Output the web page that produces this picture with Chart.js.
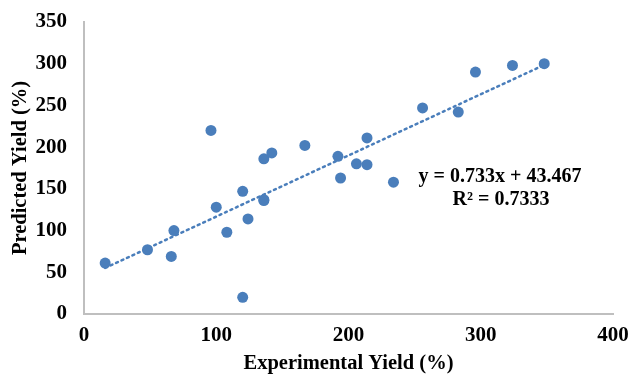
<!DOCTYPE html>
<html>
<head>
<meta charset="utf-8">
<script src="https://cdn.jsdelivr.net/npm/chart.js@4"></script>
<style>
  html, body { margin: 0; padding: 0; background: #fff; }
  #wrap { width: 630px; height: 376px; position: relative; }
  .eq { position: absolute; font: bold 20px "Liberation Serif", "Times New Roman", serif; color: #000; white-space: nowrap; transform: translate(-50%, -50%); }
</style>
</head>
<body>
<div id="wrap">
  <canvas id="myChart" width="630" height="376"></canvas>
  <div class="eq" style="left:500px; top:175px;">y = 0.733x + 43.467</div>
  <div class="eq" style="left:501px; top:198px;">R² = 0.7333</div>
</div>
<script>
const experimental = [16, 48, 66, 68, 100, 108, 120, 124, 136, 136, 120, 96, 136, 142, 167, 192, 194, 206, 214, 214, 234, 256, 283, 296, 324, 348]
const predicted = [61, 77, 69, 100, 128, 98, 147, 114, 136, 137, 20, 220, 186, 193, 202, 189, 163, 180, 179, 211, 158, 247, 242, 290, 298, 300]
const xTicks = [0, 100, 200, 300, 400]
const yTicks = [0, 50, 100, 150, 200, 250, 300, 350]
const slope = 0.733
const intercept = 43.467

const points = experimental.map((x, i) => ({ x: x, y: predicted[i] }))
const xMin = Math.min(...experimental)
const xMax = Math.max(...experimental)
const trend = [
  { x: xMin, y: slope * xMin + intercept },
  { x: xMax, y: slope * xMax + intercept }
]

const serif = '"Liberation Serif", "Times New Roman", serif'
const tickFont = { family: serif, weight: 'bold', size: 21 }
const titleFont = { family: serif, weight: 'bold', size: 20.5 }

new Chart('myChart', {
  type: 'scatter',
  data: {
    datasets: [{
      data: points,
      backgroundColor: '#4a7ebb',
      borderWidth: 0,
      pointRadius: 5.5,
      order: 1
    }, {
      type: 'line',
      data: trend,
      borderColor: '#4a7ebb',
      borderWidth: 2.5,
      borderDash: [2, 4],
      borderCapStyle: 'round',
      pointRadius: 0,
      fill: false,
      order: 2
    }]
  },
  options: {
    responsive: false,
    animation: false,
    plugins: { legend: { display: false }, tooltip: { enabled: false } },
    layout: { padding: { left: 0, right: 17, top: 22, bottom: 0 } },
    scales: {
      x: {
        type: 'linear',
        min: 0,
        max: 400,
        afterBuildTicks: s => { s.ticks = xTicks.map(v => ({ value: v })) },
        afterFit: s => { s.height = 62; s.paddingLeft = 0; s.paddingRight = 0 },
        grid: { display: false, drawTicks: false },
        border: { color: '#bfbfbf', width: 2 },
        ticks: { font: tickFont, color: '#000', padding: 9, maxRotation: 0 },
        title: { display: true, text: 'Experimental Yield (%)', font: titleFont, color: '#000', padding: { top: 0, bottom: 0 } }
      },
      y: {
        type: 'linear',
        min: 0,
        max: 350,
        afterBuildTicks: s => { s.ticks = yTicks.map(v => ({ value: v })) },
        afterFit: s => { s.width = 84; s.paddingTop = 0; s.paddingBottom = 0 },
        grid: { display: false, drawTicks: false },
        border: { color: '#bfbfbf', width: 2 },
        ticks: { font: tickFont, color: '#000', padding: 17 },
        title: { display: true, text: 'Predicted Yield (%)', font: titleFont, color: '#000', padding: { top: 8, bottom: 0 } }
      }
    }
  }
})
</script>
</body>
</html>
